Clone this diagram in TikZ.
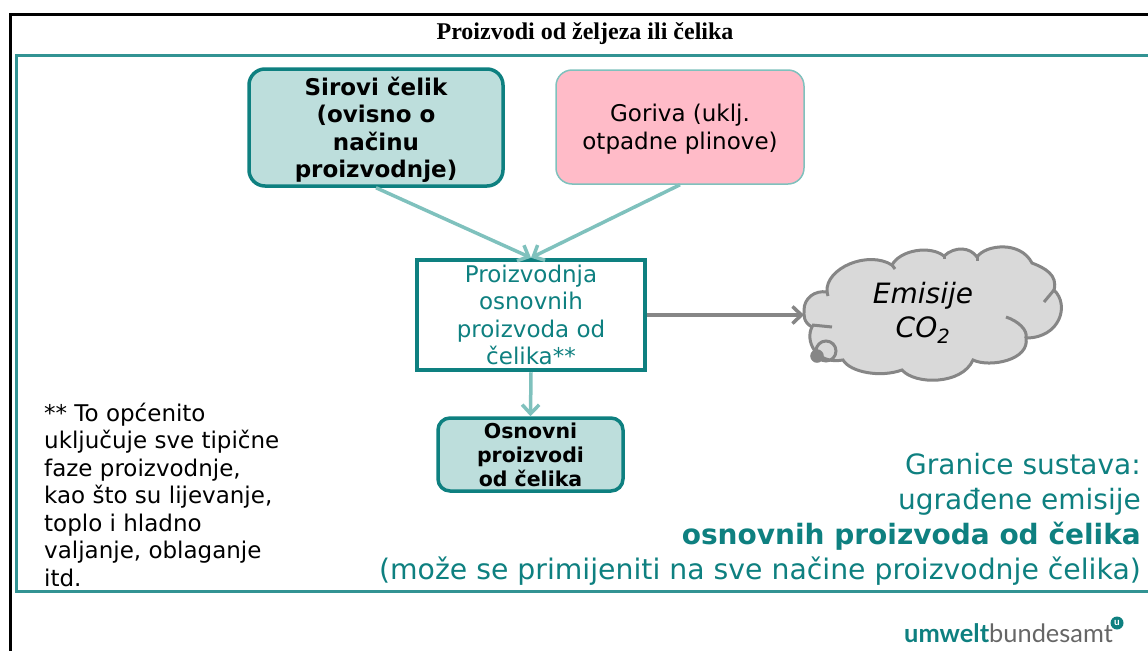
\documentclass[tikz,border=0pt]{standalone}
\usepackage{fontspec}
\usepackage{tikz}
\usetikzlibrary{arrows.meta}
\setmainfont{DejaVu Sans}
\newfontfamily\titlefont{Liberation Serif}
\newfontfamily\logofont{Lato}

\definecolor{tealdark}{HTML}{0E8080}
\definecolor{teallight}{HTML}{7FC1BD}
\definecolor{tealfill}{HTML}{BDDEDC}
\definecolor{pinkfill}{HTML}{FFBBC8}
\definecolor{cloudfill}{HTML}{D9D9D9}
\definecolor{cloudline}{HTML}{868686}

\tikzset{
    flowbox/.style={draw=tealdark, line width=3.5pt, fill=tealfill, rounded corners=16pt, align=center, inner sep=0pt},
    flowline/.style={->, >={Straight Barb[length=9pt, width=17pt]}, teallight, line width=3.5pt},
    cloudstroke/.style={cloudline, line width=3pt}
}

\begin{document}
\begin{tikzpicture}[x=1pt, y=-1pt]
    \useasboundingbox (0, 0) rectangle (1148, 651);

    \draw[line width=3pt] (1148, 14) -- (10.5, 14) -- (10.5, 651);
    \draw[tealdark!85, line width=3pt] (1148, 55) -- (16, 55) -- (16, 591) -- (1148, 591);

    \node[font=\titlefont\fontsize{24}{28}\selectfont\bfseries] (title) at (585, 34) {Proizvodi od željeza ili čelika};

    \node[flowbox, minimum width=254pt, minimum height=117pt, font=\fontsize{23}{27.5}\selectfont\bfseries] (sirovi) at (376, 127.5)
        {\rule{0pt}{22.5pt}Sirovi čelik\\(ovisno o\\načinu\\proizvodnje)};
    \node[flowbox, draw=teallight, line width=1.5pt, fill=pinkfill, minimum width=248pt, minimum height=114pt, font=\fontsize{23}{28}\selectfont] (goriva) at (680, 127)
        {\rule{0pt}{22pt}Goriva (uklj.\\otpadne plinove)};
    \node[draw=tealdark, line width=4.5pt, align=center, inner sep=0pt, text=tealdark, minimum width=228pt, minimum height=110pt, font=\fontsize{23}{27.5}\selectfont] (proizvodnja) at (531, 315)
        {Proizvodnja\\osnovnih\\proizvoda od\\čelika**};
    \node[flowbox, rounded corners=12pt, minimum width=185pt, minimum height=73pt, font=\fontsize{20.5}{24}\selectfont\bfseries] (osnovni) at (530.5, 454.5)
        {Osnovni\\proizvodi\\od čelika};

    \draw[cloudstroke, fill=cloudfill] (804, 310)
        .. controls (804, 298) and (815, 290) .. (827, 292)
        .. controls (825, 268) and (868, 250) .. (892, 265)
        .. controls (900, 250) and (930, 245) .. (944, 256)
        .. controls (955, 246) and (970, 247) .. (977, 257)
        .. controls (985, 245) and (1020, 240) .. (1032, 263)
        .. controls (1045, 268) and (1058, 275) .. (1054, 290)
        .. controls (1070, 305) and (1060, 338) .. (1026, 338)
        .. controls (1030, 360) and (990, 368) .. (973, 360)
        .. controls (962, 385) and (915, 385) .. (902, 370)
        .. controls (880, 378) and (850, 372) .. (843, 360)
        .. controls (815, 365) and (805, 340) .. (812, 327)
        .. controls (803, 322) and (804, 315) .. (804, 310) -- cycle;
    \draw[cloudstroke] (832, 327) -- (812, 325);
    \draw[cloudstroke] (1006, 317) .. controls (1018, 321) and (1028, 330) .. (1026, 338);
    \draw[cloudstroke] (1044, 302) -- (1054, 290);
    \draw[cloudstroke] (892, 265) -- (895, 269);
    \draw[cloudstroke] (944, 256) -- (944, 259);
    \draw[cloudstroke] (977, 257) -- (977, 261);
    \draw[cloudstroke] (827, 292) -- (828, 296);
    \draw[cloudline, fill=cloudline] (817, 356) circle (6.5);
    \draw[cloudstroke] (826, 351) circle (10);

    \node[align=center, font=\fontsize{28}{34}\selectfont\itshape] (emisije) at (923, 313)
        {Emisije\\CO\textsubscript{2}};
    \coordinate (cloudwest) at (804, 315);

    \draw[flowline] (sirovi.south) -- (proizvodnja.north);
    \draw[flowline] (goriva.south) -- (proizvodnja.north);
    \draw[flowline] (proizvodnja.south) -- (osnovni.north);
    \draw[flowline, cloudline] (proizvodnja.east) -- (cloudwest);

    \node[anchor=north west, align=left, inner sep=0pt, font=\fontsize{23}{27.5}\selectfont] (napomena) at (44, 402.5)
        {** To općenito\\uključuje sve tipične\\faze proizvodnje,\\kao što su lijevanje,\\toplo i hladno\\valjanje, oblaganje\\itd.};

    \node[anchor=south east, align=right, inner sep=0pt, text=tealdark, font=\fontsize{28}{35}\selectfont] (granice) at (1141, 586)
        {Granice sustava:\\ugrađene emisije\\{\bfseries osnovnih proizvoda od čelika}\\{\fontsize{28.3}{35}\selectfont(može se primijeniti na sve načine proizvodnje čelika)}};

    \node[anchor=base west, inner sep=0pt, font=\logofont\fontsize{25.4}{28}\selectfont] (logo) at (904, 642)
        {\textcolor{tealdark}{\bfseries umwelt}\textcolor{black!60}{bundesamt}};
    \node[circle, fill=tealdark, text=white, inner sep=0pt, minimum size=13pt, font=\logofont\fontsize{10}{10}\selectfont\bfseries] (logou) at (1117, 623) {u};
\end{tikzpicture}
\end{document}
